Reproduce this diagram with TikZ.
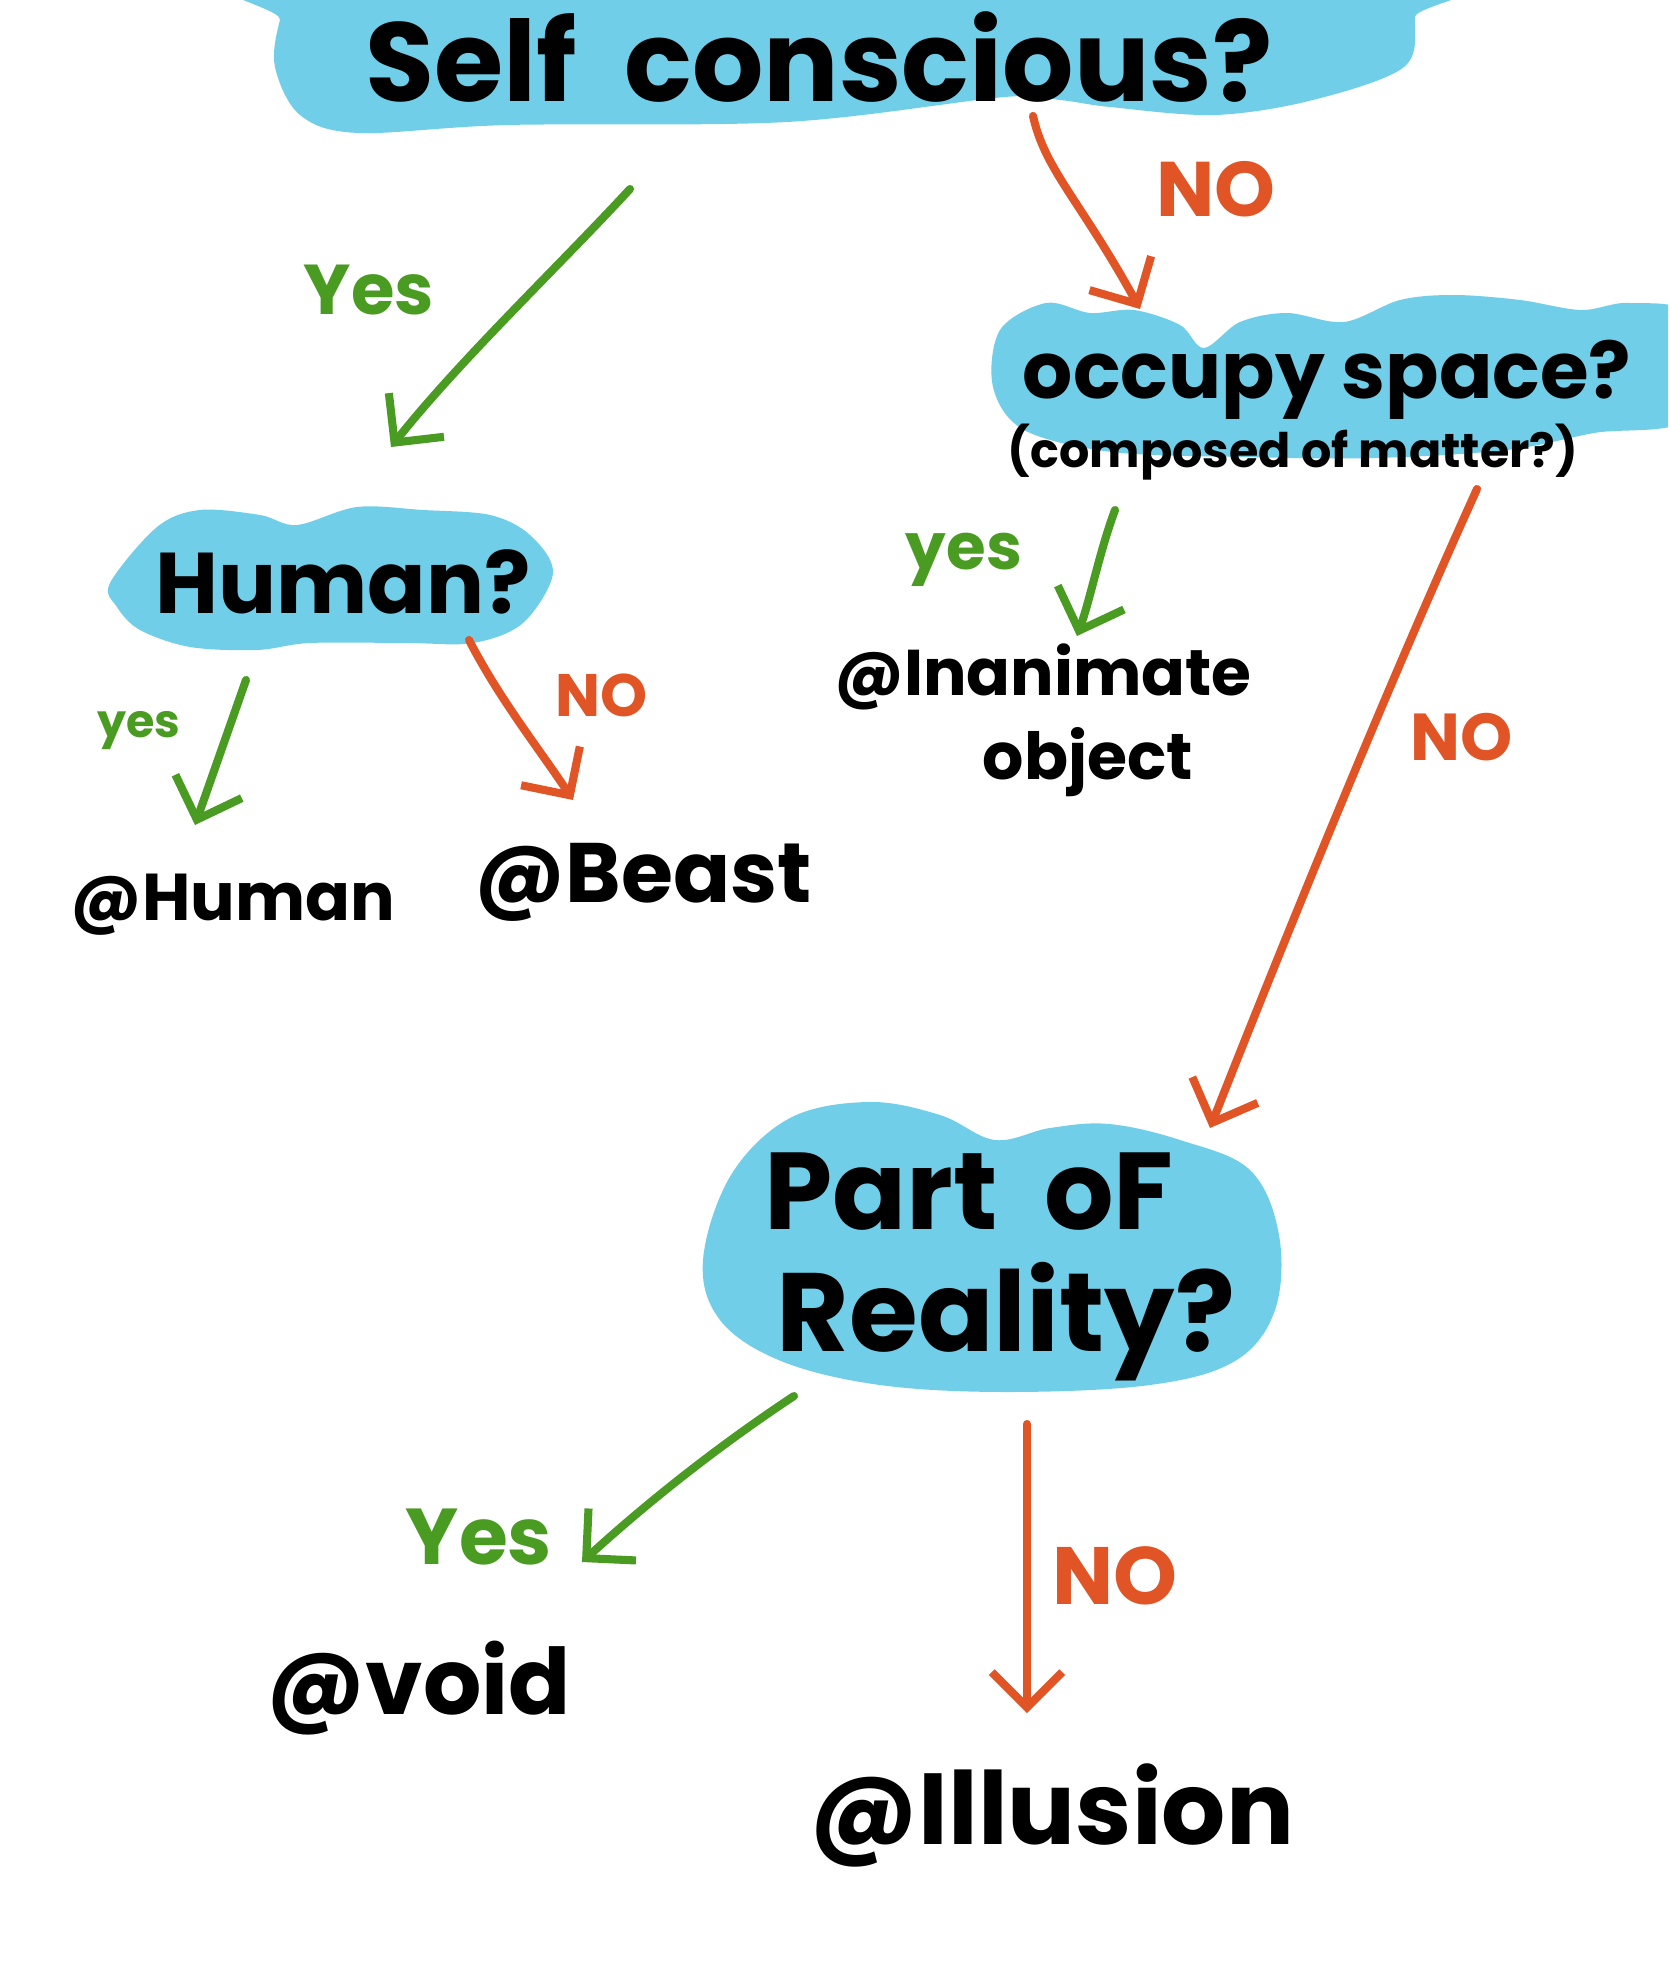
\documentclass[tikz,border=0pt]{standalone}
\usepackage{graphicx}
\usepackage{fontspec}
\setmainfont{Poppins}
\usetikzlibrary{arrows.meta}
\definecolor{cloudc}{HTML}{71CEE8}
\definecolor{yesg}{HTML}{4A9B22}
\definecolor{noo}{HTML}{E05425}
\newcommand{\fitw}[2]{\resizebox{#1cm}{!}{#2}}
\begin{document}
\begin{tikzpicture}[x=0.01cm,y=-0.01cm,
  lbl/.style={inner sep=0pt, text=black, font=\bfseries},
  yeslbl/.style={inner sep=0pt, text=yesg, font=\bfseries},
  nolbl/.style={inner sep=0pt, text=noo, font=\bfseries},
  cloudfill/.style={fill=cloudc},
  yesarrow/.style={draw=yesg, line width=2.3pt, line cap=round, line join=round, -{Straight Barb[length=10pt,width=20pt]}},
  noarrow/.style={draw=noo, line width=2.3pt, line cap=round, line join=round, -{Straight Barb[length=10pt,width=20pt]}}]
\useasboundingbox (0,0) rectangle (1668,1976);
\clip (0,0) rectangle (1668,1976);
\fill[white] (0,0) rectangle (1668,1976);
% clouds
\fill[cloudfill] plot[smooth cycle, tension=0.55] coordinates {
  (300,-30) (280,20) (275,67) (300,115) (358,133) (508,125) (787,122) (1005,97)
  (1060,100) (1110,107) (1215,115) (1313,100) (1404,67) (1415,17) (1410,-30)};
\fill[cloudfill] plot[smooth cycle, tension=0.55] coordinates {
  (993,387) (1000,330) (1046,303) (1090,313) (1134,310) (1180,325) (1204,348)
  (1240,322) (1287,313) (1344,322) (1400,300) (1454,295) (1520,300) (1581,310)
  (1629,303) (1690,317) (1690,417) (1594,433) (1507,450) (1375,458) (1243,457)
  (1112,452) (1024,430)};
\fill[cloudfill] plot[smooth cycle, tension=0.55] coordinates {
  (110,583) (157,527) (200,510) (260,515) (297,525) (357,507) (423,510) (490,515)
  (530,535) (553,573) (523,623) (473,643) (407,643) (310,643) (257,650) (190,647)
  (140,630) (117,607)};
\fill[cloudfill] plot[smooth cycle, tension=0.6] coordinates {
  (731,1175) (790,1118) (869,1102) (940,1115) (995,1140) (1050,1128) (1109,1124)
  (1180,1140) (1250,1170) (1279,1235) (1275,1310) (1235,1361) (1150,1385) (1008,1392)
  (880,1385) (781,1361) (720,1320) (703,1260)};
% texts
\node[lbl] (selfq) at (819,57) {\fitw{9.07}{Self\ \ conscious?}};
\node[lbl] (occq) at (1327,380) {\fitw{6.08}{occupy space?}};
\node[lbl] (occsub) at (1293,452) {\fitw{5.70}{(composed of matter?)}};
\node[lbl] (humq) at (343,582) {\fitw{3.75}{Human?}};
\node[lbl] (inan) at (1043,677) {\fitw{4.17}{@Inanimate}};
\node[lbl] (inobj) at (1088,762) {\fitw{2.10}{object}};
\node[lbl] (hum) at (233,905) {\fitw{3.24}{@Human}};
\node[lbl] (beast) at (643,882) {\fitw{3.37}{@Beast}};
\node[lbl] (part) at (969,1192) {\fitw{4.09}{Part\ \ oF}};
\node[lbl] (real) at (1006,1322) {\fitw{4.58}{Reality?}};
\node[lbl] (void) at (419,1688) {\fitw{3.04}{@void}};
\node[lbl] (illu) at (1052,1815) {\fitw{4.84}{@Illusion}};
% edge labels
\node[yeslbl] (y1) at (369,290) {\fitw{1.30}{Yes}};
\node[nolbl] (n1) at (1216,189) {\fitw{1.19}{NO}};
\node[yeslbl] (y2) at (964,560) {\fitw{1.16}{yes}};
\node[nolbl] (n2) at (1462,737) {\fitw{1.02}{NO}};
\node[yeslbl] (y3) at (139,731) {\fitw{0.83}{yes}};
\node[nolbl] (n3) at (602,695) {\fitw{0.92}{NO}};
\node[yeslbl] (y4) at (479,1537) {\fitw{1.46}{Yes}};
\node[nolbl] (n4) at (1115,1576) {\fitw{1.25}{NO}};
% connector ends
\coordinate (s1) at (630,189); \coordinate (e1) at (391,447);
\coordinate (s2) at (1033,116); \coordinate (e2) at (1140,309);
\coordinate (s3) at (1115,510); \coordinate (e3) at (1077,636);
\coordinate (s4) at (1477,489); \coordinate (e4) at (1210,1128);
\coordinate (s5) at (246,680); \coordinate (e5) at (195,825);
\coordinate (s6) at (469,640); \coordinate (e6) at (573,800);
\coordinate (s7) at (794,1396); \coordinate (e7) at (582,1562);
\coordinate (s8) at (1027,1424); \coordinate (e8) at (1027,1713);
% connectors
\draw[yesarrow] (s1) .. controls (560,265) and (460,360) .. (e1);
\draw[noarrow] (s2) .. controls (1045,170) and (1080,200) .. (e2);
\draw[yesarrow] (s3) .. controls (1100,550) and (1090,600) .. (e3);
\draw[noarrow] (s4) .. controls (1395,670) and (1300,900) .. (e4);
\draw[yesarrow] (s5) -- (e5);
\draw[noarrow] (s6) .. controls (500,700) and (540,750) .. (e6);
\draw[yesarrow] (s7) .. controls (720,1445) and (650,1500) .. (e7);
\draw[noarrow] (s8) -- (e8);
\end{tikzpicture}
\end{document}
